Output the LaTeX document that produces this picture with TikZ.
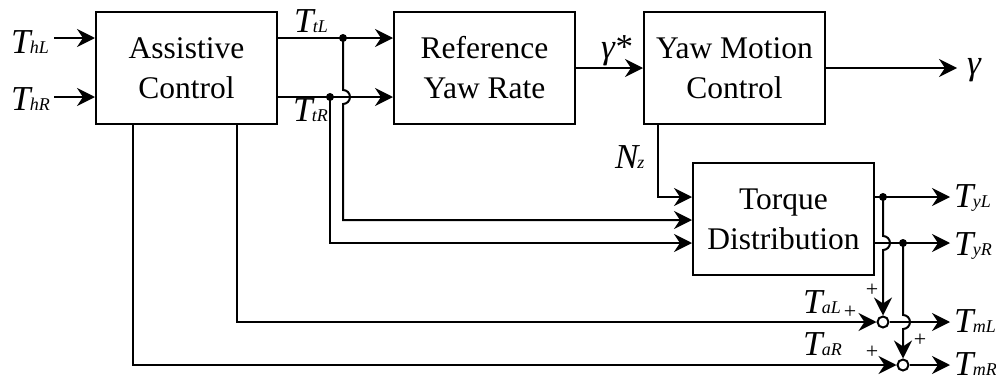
\documentclass[tikz,border=0pt]{standalone}
\usepackage{fontspec}
\setmainfont{Liberation Serif}
\usetikzlibrary{arrows.meta}
\newcommand\Tl[1]{\textit{T\kern-0.5pt{\fontsize{18}{18}\selectfont #1}}}
\begin{document}
\begin{tikzpicture}[x=1pt,y=-1pt, line width=2pt,
  >={Stealth[length=18pt,width=18pt,inset=6pt]},
  blk/.style={draw, minimum width=181pt, minimum height=112pt, align=center,
    font=\fontsize{31.5}{40}\selectfont, inner sep=0pt},
  lbl/.style={font=\fontsize{35}{35}\selectfont, inner sep=0pt, anchor=base west},
  jdot/.style={circle, fill, inner sep=0pt, minimum size=8pt},
  sumc/.style={circle, draw, fill=white, inner sep=0pt, minimum size=11pt},
  pl/.style={font=\fontsize{22}{22}\selectfont, inner sep=0pt}]
\useasboundingbox (0,0) rectangle (996,383);
% blocks
\node[blk] (ac) at (186.5,68) {Assistive\\Control};
\node[blk] (ref) at (484.5,68) {Reference\\Yaw Rate};
\node[blk] (ymc) at (734.5,68) {Yaw Motion\\Control};
\node[blk] (td) at (783.5,219) {Torque\\Distribution};
% coordinates
\coordinate (hl) at (54,38);
\coordinate (hr) at (54,97);
\coordinate (jtl) at (343,38);
\coordinate (jtr) at (330,97);
\coordinate (ftl) at (343,220);
\coordinate (ftr) at (330,243);
\coordinate (nz) at (658,197);
\coordinate (gout) at (957,68);
\coordinate (jyl) at (883,197);
\coordinate (jyr) at (903,243);
\coordinate (yl) at (950,197);
\coordinate (yr) at (950,243);
\coordinate (ml) at (950,322);
\coordinate (mr) at (950,365);
\node[sumc] (s1) at (883,322) {};
\node[sumc] (s2) at (903,365) {};
% inputs
\draw[->] (hl) -- (ac.west |- hl);
\draw[->] (hr) -- (ac.west |- hr);
\node[lbl] (lhl) at (10,53) {\Tl{hL}};
\node[lbl] (lhr) at (10,110) {\Tl{hR}};
% to reference
\draw[->] (ac.east |- jtl) -- (ref.west |- jtl);
\draw[->] (ac.east |- jtr) -- (ref.west |- jtr);
\node[lbl] (ltl) at (293,32) {\Tl{tL}};
\node[lbl] (ltr) at (292,121) {\Tl{tR}};
% feeds to torque distribution
\draw[->] (jtl) -- (343,90) arc(-90:90:7) -- (ftl) -- (td.west |- ftl);
\draw[->] (jtr) -- (ftr) -- (td.west |- ftr);
\node[jdot] (d1) at (jtl) {};
\node[jdot] (d2) at (jtr) {};
% yaw rate
\draw[->] (ref) -- (ymc);
\node[lbl] (lgs) at (600,58) {\textit{γ}*};
\draw[->] (ymc) -- (gout);
\node[lbl] (lg) at (966,74) {\textit{γ}};
% Nz
\draw[->] (ymc.south -| nz) -- (nz) -- (td.west |- nz);
\node[lbl] (lnz) at (614,168) {\textit{N\kern-1pt{\fontsize{18}{18}\selectfont z}}};
% torque distribution outputs
\draw[->] (td.east |- yl) -- (yl);
\draw[->] (td.east |- yr) -- (yr);
\node[lbl] (lyl) at (953,207) {\Tl{yL}};
\node[lbl] (lyr) at (953,255) {\Tl{yR}};
\draw[->] (jyl) -- (883,236) arc(-90:90:7) -- (s1);
\draw[->] (jyr) -- (903,315) arc(-90:90:7) -- (s2);
\node[jdot] (d3) at (jyl) {};
\node[jdot] (d4) at (jyr) {};
% assistive torques
\draw[->] (ac.south -| 237,0) |- (s1);
\draw[->] (ac.south -| 133,0) |- (s2);
\node[lbl] (lal) at (802,313) {\Tl{aL}};
\node[lbl] (lar) at (802,355) {\Tl{aR}};
% outputs
\draw[->] (s1) -- (ml);
\draw[->] (s2) -- (mr);
\node[lbl] (lml) at (953,332) {\Tl{mL}};
\node[lbl] (lmr) at (953,375) {\Tl{mR}};
% signs
\node[pl] (p1) at (872,290) {+};
\node[pl] (p2) at (850,312) {+};
\node[pl] (p3) at (920,340) {+};
\node[pl] (p4) at (872,352) {+};
\end{tikzpicture}
\end{document}
